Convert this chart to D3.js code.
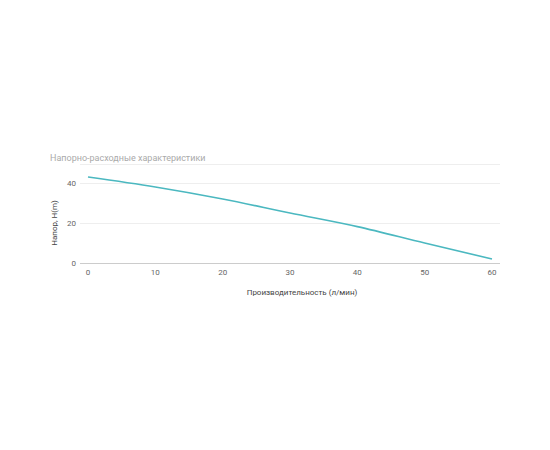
<!DOCTYPE html><html><head><meta charset="utf-8"><script src="https://cdn.jsdelivr.net/npm/d3@7"></script>
<style>body{margin:0;background:#fff;font-family:Roboto,sans-serif}</style></head><body><svg width="550" height="450"></svg>
<script>
const flow=[0,10,20,30,40,50,60];
const head=[43,38,32,25,18.2,10,2];
const xTicks=[0,10,20,30,40,50,60];
const yTicks=[0,20,40];
const svg=d3.select("svg");
const x=d3.scaleLinear().domain([0,60]).range([88,492]);
const y=d3.scaleLinear().domain([0,40]).range([263,183]);
svg.append("text").attr("x",50).attr("y",161).attr("font-size",9).attr("fill","#aaa").text("Напорно-расходные характеристики");
svg.append("line").attr("x1",80).attr("x2",500).attr("y1",164.5).attr("y2",164.5).attr("stroke","#eee");
yTicks.forEach(t=>{
 svg.append("line").attr("x1",80).attr("x2",500).attr("y1",y(t)+.5).attr("y2",y(t)+.5).attr("stroke",t==0?"#ccc":"#eee");
 svg.append("text").attr("x",76).attr("y",y(t)+3).attr("text-anchor","end").attr("font-size",8).attr("fill","#666").text(t);
});
xTicks.forEach(t=>svg.append("text").attr("x",x(t)).attr("y",275).attr("text-anchor","middle").attr("font-size",8).attr("fill","#666").text(t));
svg.append("text").attr("x",302).attr("y",295).attr("text-anchor","middle").attr("font-size",8).attr("fill","#444").text("Производительность (л/мин)");
svg.append("text").attr("transform","translate(57,223) rotate(-90)").attr("text-anchor","middle").attr("font-size",8).attr("fill","#444").text("Напор, H(m)");
svg.append("path").datum(flow.map((f,i)=>[f,head[i]])).attr("fill","none").attr("stroke","#4bb8c0").attr("stroke-width",1.6)
 .attr("d",d3.line().x(d=>x(d[0])).y(d=>y(d[1])).curve(d3.curveMonotoneX));
</script></body></html>
